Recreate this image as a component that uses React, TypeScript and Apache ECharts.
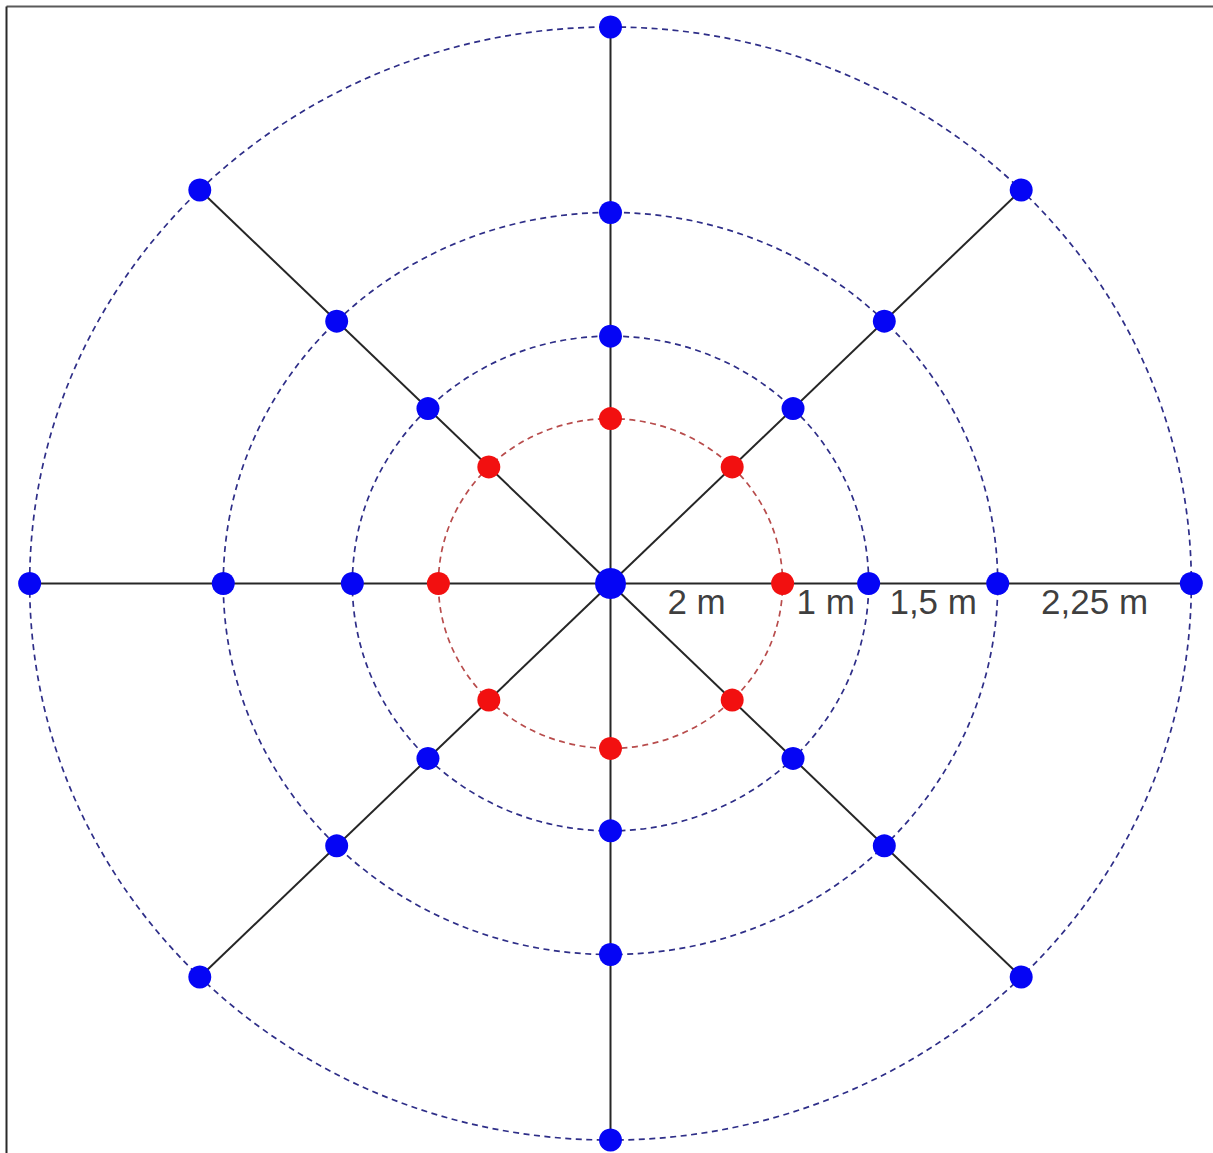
import React, { useEffect, useRef } from "react";
import * as echarts from "echarts";

// Ring radii (relative units, inner red ring = 1)
const ringRadii = [1, 1.5, 2.25, 3.375];
const ringKinds = ["red", "blue", "blue", "blue"];
// Ray directions in degrees
const rayAngles = [0, 45, 90, 135, 180, 225, 270, 315];
// Centre point
const centerPoint = [0, 0];
// Distance labels and their positions along the right-hand ray
const distanceLabels = ["2 m", "1 m", "1,5 m", "2,25 m"];
const labelPositions = [0.5, 1.25, 1.875, 2.8125];

const BLUE_DOT = "#0505f5";
const RED_DOT = "#f21010";
const BLUE_RING = "#2e2e88";
const RED_RING = "#b84c4c";
const RAY = "#262626";

const rad = (a: number) => (a * Math.PI) / 180;

export default function App() {
  const ref = useRef<HTMLDivElement>(null);

  useEffect(() => {
    if (!ref.current) return;
    const chart = echarts.init(ref.current, null, { renderer: "svg" });

    const outer = ringRadii[ringRadii.length - 1];
    const redPts: number[][] = [];
    const bluePts: number[][] = [];
    ringRadii.forEach((r, i) => {
      rayAngles.forEach((a) => {
        const p = [r * Math.cos(rad(a)), r * Math.sin(rad(a))];
        if (ringKinds[i] === "red") redPts.push(p);
        else bluePts.push(p);
      });
    });
    const rayEnds = rayAngles.map((a) => [outer * Math.cos(rad(a)), outer * Math.sin(rad(a))]);

    const option: any = {
      animation: false,
      backgroundColor: "#ffffff",
      grid: { left: 8.15, top: 14.6, width: 1204.7, height: 1137.8, containLabel: false },
      xAxis: { type: "value", min: -3.5, max: 3.5, show: false },
      yAxis: { type: "value", min: -3.45, max: 3.45, show: false },
      graphic: [
        {
          type: "line",
          shape: { x1: 6.5, y1: 6.5, x2: 1213, y2: 6.5 },
          style: { stroke: "#5a5a5a", lineWidth: 2 },
          z: 100,
        },
        {
          type: "line",
          shape: { x1: 6.5, y1: 6.5, x2: 6.5, y2: 1153 },
          style: { stroke: "#2a2a2a", lineWidth: 2 },
          z: 100,
        },
      ],
      series: [
        {
          type: "custom",
          name: "rings",
          coordinateSystem: "cartesian2d",
          clip: false,
          silent: true,
          z: 1,
          data: ringRadii.map((r, i) => [r, i]),
          encode: { x: 0, y: 1 },
          renderItem: (params: any, api: any) => {
            const r = api.value(0);
            const idx = api.value(1);
            const c = api.coord(centerPoint);
            const px = api.coord([r, 0]);
            const py = api.coord([0, r]);
            return {
              type: "ellipse",
              shape: { cx: c[0], cy: c[1], rx: px[0] - c[0], ry: c[1] - py[1] },
              style: {
                fill: "none",
                stroke: ringKinds[idx] === "red" ? RED_RING : BLUE_RING,
                lineWidth: 1.7,
                lineDash: [6, 4.5],
              },
            };
          },
        },
        {
          type: "custom",
          name: "rays",
          coordinateSystem: "cartesian2d",
          clip: false,
          silent: true,
          z: 2,
          data: rayEnds,
          encode: { x: 0, y: 1 },
          renderItem: (params: any, api: any) => {
            const c = api.coord(centerPoint);
            const e = api.coord([api.value(0), api.value(1)]);
            return {
              type: "line",
              shape: { x1: c[0], y1: c[1], x2: e[0], y2: e[1] },
              style: { stroke: RAY, lineWidth: 2 },
            };
          },
        },
        {
          type: "scatter",
          name: "blue points",
          z: 3,
          clip: false,
          silent: true,
          symbol: "circle",
          symbolSize: 23,
          itemStyle: { color: BLUE_DOT, opacity: 1 },
          data: bluePts,
        },
        {
          type: "scatter",
          name: "red points",
          z: 3,
          clip: false,
          silent: true,
          symbol: "circle",
          symbolSize: 23,
          itemStyle: { color: RED_DOT, opacity: 1 },
          data: redPts,
        },
        {
          type: "scatter",
          name: "centre",
          z: 4,
          clip: false,
          silent: true,
          symbol: "circle",
          symbolSize: 31,
          itemStyle: { color: BLUE_DOT, opacity: 1 },
          data: [centerPoint],
        },
        {
          type: "scatter",
          name: "labels",
          z: 5,
          clip: false,
          silent: true,
          symbol: "circle",
          symbolSize: 1,
          itemStyle: { color: "rgba(0,0,0,0)" },
          label: {
            show: true,
            position: "inside",
            offset: [0, 18],
            formatter: (p: any) => p.name,
            fontFamily: "Liberation Sans, Arial, sans-serif",
            fontSize: 35,
            color: "#0a0a0a",
            textBorderWidth: 0,
          },
          data: labelPositions.map((x, i) => ({ name: distanceLabels[i], value: [x, 0] })),
        },
      ],
    };

    chart.setOption(option);
    return () => chart.dispose();
  }, []);

  return (
    <div
      ref={ref}
      style={{ position: "absolute", left: 0, top: 0, width: 1213, height: 1153 }}
    />
  );
}
